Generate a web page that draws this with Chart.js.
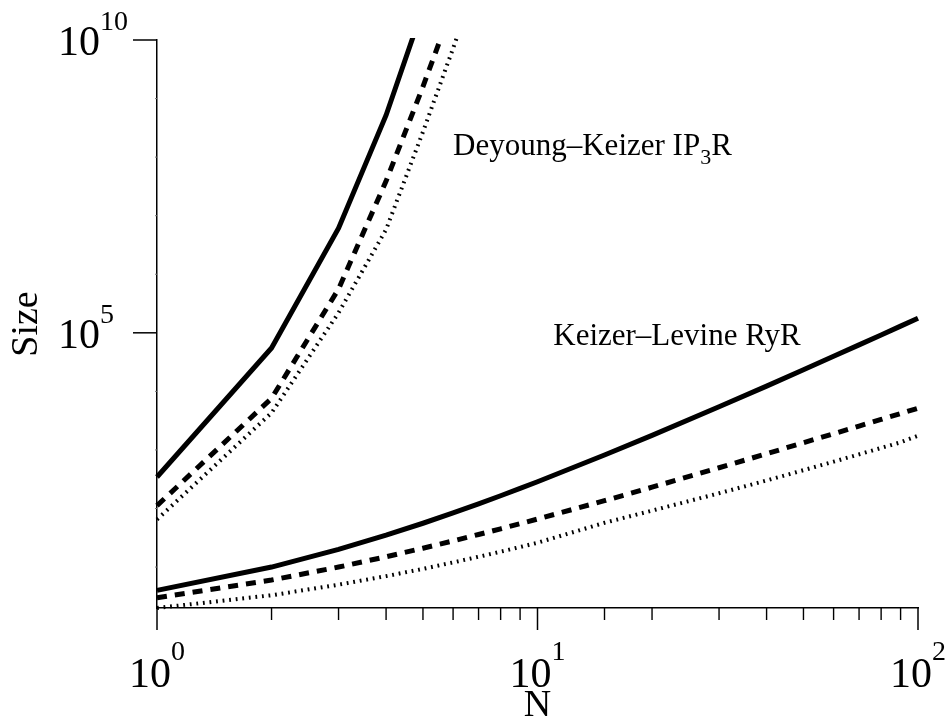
<!DOCTYPE html>
<html>
<head>
<meta charset="utf-8">
<script src="https://cdn.jsdelivr.net/npm/chart.js@4.4.1/dist/chart.umd.min.js"></script>
<style>
  html,body{margin:0;padding:0;background:#fff;}
  canvas{display:block;}
</style>
</head>
<body>
<canvas id="c" width="948" height="721"></canvas>
<script>
// ---- data ----
const N_IP3R = [1, 2, 3, 4, 5, 6, 7];
const IP3R_SOLID  = [345, 55000, 6.1e6, 5.2e8, 3.5e10];
const IP3R_DASHED = [112, 7600, 5.6e5, 3.9e7, 1.6e9, 4.0e10];
const IP3R_DOTTED = [65, 4300, 2.2e5, 5.8e6, 2.7e8, 7.2e9, 1.3e11];

const N_RYR = [1, 2, 3, 4, 5, 6, 7, 8, 9, 10, 15, 20, 30, 40, 50, 60, 70, 80, 90, 100];
const RYR_SOLID  = [4, 10, 20, 35, 56, 84, 120, 165, 220, 286, 820, 1770, 5460, 12300, 23400, 39700, 62200, 91900, 130000, 177000];
const RYR_DASHED = [3, 6, 10, 15, 21, 28, 36, 45, 55, 66, 136, 231, 496, 861, 1330, 1890, 2560, 3320, 4190, 5150];
const RYR_DOTTED = [2, 3.3, 5, 7, 9.3, 12, 15, 18.3, 22, 26, 57, 92, 182, 301, 451, 630, 840, 1080, 1350, 1750];

const X_MIN = 1, X_MAX = 100;
const Y_MIN = 2, Y_MAX = 1e10;
const Y_TICKS = [10, 100, 1e3, 1e4, 1e5, 1e6, 1e7, 1e8, 1e9, 1e10];
const X_LABELS = [[1, '0'], [10, '1'], [100, '2']];
const Y_LABELS = [[1e5, '5'], [1e10, '10']];

const SERIF = '"Liberation Serif", "DejaVu Serif", serif';

function pts(ns, vals){ return vals.map((v,i)=>({x:ns[i], y:v})); }

const SOLID  = {borderWidth:5, borderDash:[]};
const DASHED = {borderWidth:5, borderDash:[10,8]};
const DOTTED = {borderWidth:4, borderDash:[1.8,4.8]};

function ds(data, style){
  return Object.assign({data, borderColor:'#000', backgroundColor:'#000', pointRadius:0,
    tension:0, fill:false, borderCapStyle:'butt', clip:2}, style);
}

function isDecade(v){ const l = Math.log10(v); return Math.abs(l-Math.round(l))<1e-9; }

// superscript labels, small ticks and the two curve-group captions
const axisDecor = {
  id:'axisDecor',
  afterDraw(chart){
    const {ctx, scales:{x, y}, chartArea:a} = chart;
    ctx.save();
    ctx.strokeStyle = '#000';
    ctx.fillStyle = '#000';

    // x ticks (downward)
    x.ticks.forEach(t=>{
      const px = x.getPixelForValue(t.value);
      const len = isDecade(t.value) ? 22 : 12;
      ctx.lineWidth = isDecade(t.value) ? 1.5 : 1.4;
      ctx.beginPath(); ctx.moveTo(px, a.bottom); ctx.lineTo(px, a.bottom+len); ctx.stroke();
    });
    // y ticks (leftward)
    y.ticks.forEach(t=>{
      const py = y.getPixelForValue(t.value);
      const major = Y_LABELS.some(l=>l[0]===t.value);
      ctx.lineWidth = major ? 1.5 : 1;
      ctx.strokeStyle = major ? '#000' : '#777';
      ctx.beginPath(); ctx.moveTo(a.left, py); ctx.lineTo(a.left-(major?24:2), py); ctx.stroke();
    });
    ctx.strokeStyle = '#000';

    // power-of-ten labels
    const baseFont = '42px '+SERIF, supFont = '28px '+SERIF;
    ctx.textBaseline = 'alphabetic';
    ctx.textAlign = 'left';
    X_LABELS.forEach(([v, e])=>{
      const px = x.getPixelForValue(v);
      ctx.font = baseFont; const wb = ctx.measureText('10').width;
      ctx.font = supFont;  const ws = ctx.measureText(e).width;
      const x0 = px - (wb+ws)/2;
      ctx.font = baseFont; ctx.fillText('10', x0, a.bottom+79);
      ctx.font = supFont;  ctx.fillText(e, x0+wb, a.bottom+52);
    });
    Y_LABELS.forEach(([v, e])=>{
      const py = y.getPixelForValue(v);
      ctx.font = baseFont; const wb = ctx.measureText('10').width;
      ctx.fillText('10', 58, py+15);
      ctx.font = supFont; ctx.fillText(e, 58+wb, py-10);
    });

    // captions
    const capFont = '31px '+SERIF, subFont = '22px '+SERIF;
    let cx = x.getPixelForValue(6.0), cy = y.getPixelForValue(1.1e8);
    ctx.font = capFont; ctx.fillText('Deyoung\u2013Keizer IP', cx, cy);
    cx += ctx.measureText('Deyoung\u2013Keizer IP').width;
    ctx.font = subFont; ctx.fillText('3', cx, cy+9);
    cx += ctx.measureText('3').width;
    ctx.font = capFont; ctx.fillText('R', cx, cy);

    ctx.font = capFont;
    ctx.fillText('Keizer\u2013Levine RyR', x.getPixelForValue(11.0), y.getPixelForValue(6.2e4));
    ctx.restore();
  }
};

new Chart(document.getElementById('c').getContext('2d'), {
  type:'line',
  data:{datasets:[
    ds(pts(N_IP3R, IP3R_SOLID), SOLID),
    ds(pts(N_IP3R, IP3R_DASHED), DASHED),
    ds(pts(N_IP3R, IP3R_DOTTED), DOTTED),
    ds(pts(N_RYR, RYR_SOLID), SOLID),
    ds(pts(N_RYR, RYR_DASHED), DASHED),
    ds(pts(N_RYR, RYR_DOTTED), DOTTED),
  ]},
  options:{
    responsive:false, animation:false,
    layout:{padding:{top:40, right:30, left:0, bottom:0}},
    plugins:{legend:{display:false}, tooltip:{enabled:false}},
    scales:{
      x:{type:'logarithmic', min:X_MIN, max:X_MAX,
        afterFit:s=>{ s.height = 113; },
        ticks:{display:false},
        grid:{display:true, drawOnChartArea:false, drawTicks:false, color:'rgba(0,0,0,0)'},
        border:{display:true, color:'#000', width:1.5},
        title:{display:true, text:'N', color:'#000', font:{family:SERIF, size:38, lineHeight:0.8}, padding:{top:0, bottom:0}}
      },
      y:{type:'logarithmic', min:Y_MIN, max:Y_MAX,
        afterFit:s=>{ s.width = 157; },
        afterBuildTicks:s=>{ s.ticks = Y_TICKS.map(v=>({value:v})); },
        ticks:{display:false},
        grid:{display:true, drawOnChartArea:false, drawTicks:false, color:'rgba(0,0,0,0)'},
        border:{display:true, color:'#000', width:1.5},
        title:{display:true, text:'Size', color:'#000', font:{family:SERIF, size:38, lineHeight:1.2}, padding:{top:4, bottom:0}}
      }
    }
  },
  plugins:[axisDecor]
});
</script>
</body>
</html>
